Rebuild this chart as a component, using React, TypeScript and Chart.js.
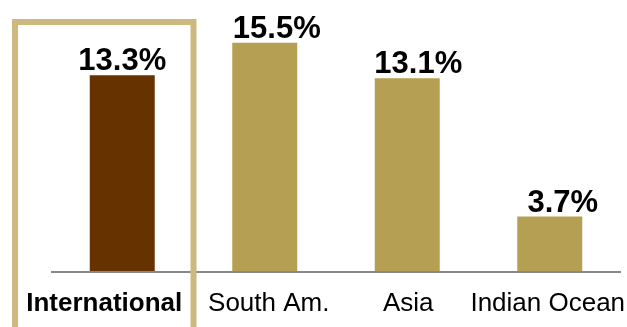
import React, { useEffect, useRef } from "react";
import { Chart, registerables } from "chart.js";

Chart.register(...registerables);

const categories = ["International", "South Am.", "Asia", "Indian Ocean"];
const values = [13.3, 15.5, 13.1, 3.7];
const valueLabels = ["13.3%", "15.5%", "13.1%", "3.7%"];
const barColors = ["#663300", "#B59F52", "#B59F52", "#B59F52"];
const highlightIndex = 0;

// style: small horizontal nudges of the text as in the reference
const valueLabelShift = [0, 12, 11, 13];
const categoryLabelShift = [0, 4, 1, -2];

const FONT = "'Liberation Sans', Arial, Helvetica, sans-serif";

const customPlugin = {
  id: "custom",
  afterDatasetsDraw(chart: any) {
    const { ctx, chartArea } = chart;
    const xScale = chart.scales.x;
    const meta = chart.getDatasetMeta(0);
    const step = xScale.getPixelForValue(1) - xScale.getPixelForValue(0);
    ctx.save();
    // axis line
    ctx.strokeStyle = "#888888";
    ctx.lineWidth = 2;
    ctx.beginPath();
    ctx.moveTo(chartArea.left, chartArea.bottom + 1);
    ctx.lineTo(chartArea.right, chartArea.bottom + 1);
    ctx.stroke();

    // highlight box
    const boxLeft = chartArea.left - 36;
    const boxRight = xScale.getPixelForValue(highlightIndex) + step / 2;
    const boxTop = 22;
    ctx.strokeStyle = "#CDB87F";
    ctx.lineWidth = 6;
    ctx.beginPath();
    ctx.moveTo(boxLeft, chart.height + 10);
    ctx.lineTo(boxLeft, boxTop);
    ctx.lineTo(boxRight, boxTop);
    ctx.lineTo(boxRight, chart.height + 10);
    ctx.stroke();

    // value labels
    ctx.fillStyle = "#000000";
    ctx.textAlign = "center";
    ctx.textBaseline = "alphabetic";
    ctx.font = `bold 31px ${FONT}`;
    meta.data.forEach((bar: any, i: number) => {
      ctx.fillText(valueLabels[i], bar.x + valueLabelShift[i], bar.y - 5);
    });

    // category labels
    const labelBaseline = chartArea.bottom + 40;
    categories.forEach((c, i) => {
      let x = xScale.getPixelForValue(i) + categoryLabelShift[i];
      if (i === highlightIndex) {
        x = (boxLeft + boxRight) / 2;
        ctx.font = `bold 26px ${FONT}`;
      } else {
        ctx.font = `26px ${FONT}`;
      }
      ctx.fillText(c, x, labelBaseline);
    });
    ctx.restore();
  },
};

export default function App() {
  const ref = useRef<HTMLCanvasElement | null>(null);
  useEffect(() => {
    document.body.style.margin = "0";
    const canvas = ref.current;
    if (!canvas) return;
    const chart = new Chart(canvas, {
      type: "bar",
      data: {
        labels: categories,
        datasets: [
          {
            data: values,
            backgroundColor: barColors,
            borderWidth: 0,
            categoryPercentage: 1,
            barPercentage: 0.456,
          },
        ],
      },
      options: {
        animation: false,
        responsive: false,
        maintainAspectRatio: false,
        devicePixelRatio: 1,
        layout: { padding: { left: 51, right: 6, top: 6, bottom: 56 } },
        plugins: { legend: { display: false }, tooltip: { enabled: false } },
        scales: {
          x: { display: false },
          y: { display: false, min: 0, max: 18 },
        },
      },
      plugins: [customPlugin],
    });
    return () => chart.destroy();
  }, []);
  return (
    <div style={{ position: "fixed", left: 0, top: 0, width: 627, height: 327, background: "#fff" }}>
      <canvas ref={ref} width={627} height={327} />
    </div>
  );
}
